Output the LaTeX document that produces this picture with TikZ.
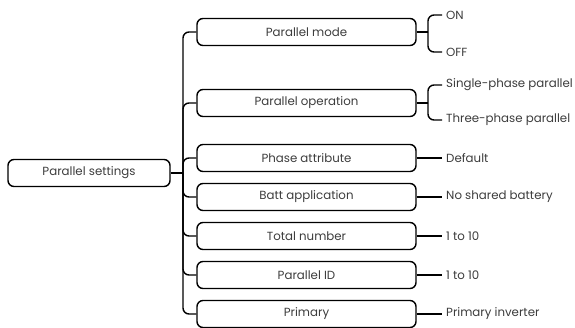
\documentclass[tikz,border=0pt]{standalone}
\usepackage{fontspec}
\setmainfont{Poppins}
\definecolor{textgray}{HTML}{3C3C3C}
\begin{document}
\begin{tikzpicture}[x=1pt,y=1pt,
  box/.style={draw=black, line width=1.4pt, rounded corners=6pt, minimum height=27pt,
    inner sep=0pt, text=textgray, font=\fontsize{11.8}{13}\selectfont},
  child/.style={box, minimum width=219pt},
  leaf/.style={anchor=west, inner xsep=4pt, inner ysep=0pt, text=textgray,
    font=\fontsize{11.8}{13}\selectfont},
  conn/.style={draw=black, line width=1.4pt, rounded corners=6pt}]
\useasboundingbox (0,0) rectangle (575,-327);
% root
\node[box, minimum width=162pt] (root) at (89,-173) {Parallel settings};
\coordinate (t) at (183,-173);
% children
\node[child] (c1) at (306.5,-32) {Parallel mode};
\node[child] (c2) at (306.5,-103) {Parallel operation};
\node[child] (c3) at (306.5,-158) {Phase attribute};
\node[child] (c4) at (306.5,-197) {Batt application};
\node[child] (c5) at (306.5,-236) {Total number};
\node[child] (c6) at (306.5,-275) {Parallel ID};
\node[child] (c7) at (306.5,-314) {Primary};
% leaves
\node[leaf] (l1a) at (442,-15) {ON};
\node[leaf] (l1b) at (442,-52) {OFF};
\node[leaf] (l2a) at (442,-85) {Single-phase parallel};
\node[leaf] (l2b) at (442,-120) {Three-phase parallel};
\node[leaf] (l3) at (442,-158) {Default};
\node[leaf] (l4) at (442,-197) {No shared battery};
\node[leaf] (l5) at (442,-236) {1 to 10};
\node[leaf] (l6) at (442,-275) {1 to 10};
\node[leaf] (l7) at (442,-314) {Primary inverter};
% root to trunk
\draw[conn] (root.east) -- (t);
\foreach \c in {c1,c2,c3,c4,c5,c6,c7}
  \draw[conn] (t) |- (\c.west);
% brackets
\coordinate (b1) at (428,-32);
\coordinate (b2) at (428,-103);
\draw[conn] (c1.east) -- (b1);
\draw[conn] (b1) |- (l1a.west);
\draw[conn] (b1) |- (l1b.west);
\draw[conn] (c2.east) -- (b2);
\draw[conn] (b2) |- (l2a.west);
\draw[conn] (b2) |- (l2b.west);
\foreach \c/\l in {c3/l3,c4/l4,c5/l5,c6/l6,c7/l7}
  \draw[conn] (\c.east) -- (\l.west);
\end{tikzpicture}
\end{document}
